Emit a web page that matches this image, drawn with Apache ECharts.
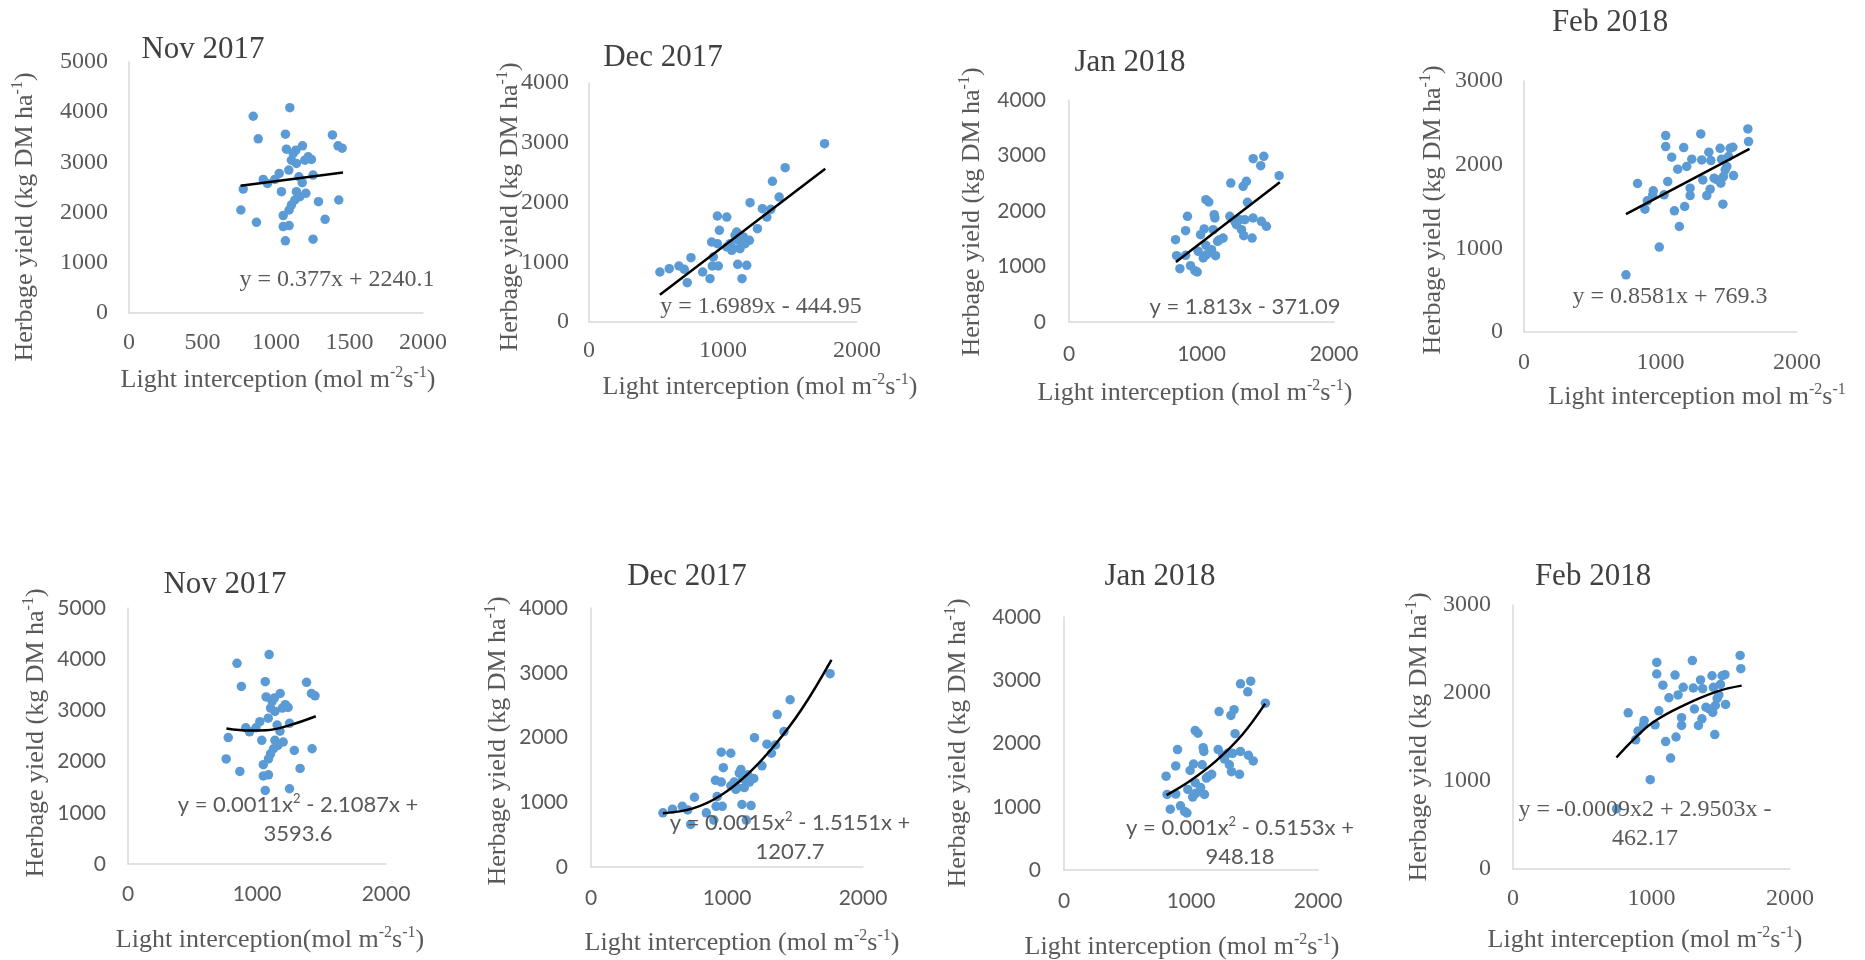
<!DOCTYPE html>
<html>
<head>
<meta charset="utf-8">
<script src="https://cdn.jsdelivr.net/npm/echarts@6/dist/echarts.min.js"></script>
<style>
html, body { margin: 0; padding: 0; background: #fff; }
#chart { width: 1865px; height: 960px; }
</style>
</head>
<body>
<div id="chart"></div>
<script>
// light interception (x) vs herbage yield (y), one pair per month
const novX = [845, 1094, 879, 1064, 1384, 1422, 1450, 1071, 1180, 1135, 1117, 1105, 1139, 1219, 1241, 1196, 1087, 1022, 913, 942, 992, 1156, 1252, 1178, 777, 1037, 1139, 1203, 1162, 1128, 1289, 1427, 1105, 1089, 761, 1049, 1334, 867, 1049, 1089, 1064, 1252];
const novY = [3919, 4091, 3469, 3562, 3548, 3330, 3284, 3264, 3330, 3244, 3178, 3045, 2979, 3111, 3058, 3045, 2847, 2780, 2661, 2582, 2661, 2714, 2747, 2595, 2469, 2416, 2416, 2383, 2317, 2251, 2218, 2251, 2152, 2052, 2052, 1940, 1867, 1807, 1721, 1741, 1437, 1470];

const decX = [529, 599, 671, 711, 733, 761, 848, 903, 920, 965, 928, 915, 958, 1028, 973, 958, 1028, 1053, 1077, 1090, 1102, 1115, 1127, 1140, 1152, 1165, 1197, 1110, 1177, 1142, 1202, 1257, 1294, 1327, 1357, 1369, 1419, 1464, 1758, 1065];
const decY = [837, 893, 937, 882, 658, 1077, 837, 725, 937, 937, 1088, 1339, 1774, 1757, 1534, 1311, 1255, 1311, 1227, 1450, 1506, 1367, 1227, 1367, 1423, 1311, 1367, 965, 948, 725, 1997, 1562, 1897, 1757, 1886, 2354, 2092, 2583, 2985, 1199];

const janX = [804, 812, 837, 880, 880, 894, 917, 950, 968, 975, 993, 1020, 1033, 1013, 1038, 1076, 1106, 1088, 1033, 1055, 1096, 1101, 1121, 1163, 1214, 1221, 1264, 1289, 1302, 1319, 1314, 1339, 1347, 1327, 1382, 1389, 1390, 1470, 1447, 1452, 1490, 1586, 1251, 1138];
const janY = [1483, 1195, 961, 1201, 1646, 1904, 1015, 925, 901, 1273, 1574, 1676, 1381, 1153, 1213, 1303, 1195, 1664, 2204, 2162, 1934, 1874, 1453, 1513, 1904, 2504, 1754, 1844, 1664, 1555, 2444, 2534, 2156, 1844, 1513, 1874, 2943, 2985, 2817, 1814, 1724, 2637, 1814, 1483];

const febX = [747, 991, 1138, 1102, 1177, 886, 903, 832, 947, 943, 1026, 1053, 1126, 1082, 1038, 1038, 1170, 1192, 1229, 1217, 1217, 1295, 1302, 1310, 1339, 1364, 1354, 1369, 1393, 1418, 1437, 1442, 1447, 1457, 1461, 1474, 1486, 1498, 1510, 1530, 1535, 1640, 1645];
const febY = [684, 1015, 1261, 1448, 1500, 1468, 1568, 1775, 1687, 1639, 1639, 1798, 1946, 2089, 2348, 2216, 2204, 1978, 2065, 1719, 1631, 2368, 2057, 1818, 1631, 1707, 2149, 2049, 1838, 1818, 2196, 1779, 2065, 1528, 1858, 1938, 1978, 2097, 2196, 2208, 1870, 2427, 2276];

// trendlines
const novLinX = [759, 1456];
const novLinY = [2535, 2800];
const decLinX = [529, 1763];
const decLinY = [457, 2566];
const janLinX = [807, 1591];
const janLinY = [1081, 2517];
const febLinX = [747, 1652];
const febLinY = [1409, 2188];

const novQuadX = [763, 944, 1074, 1255, 1456];
const novQuadY = [2645, 2605, 2612, 2712, 2885];
const decQuadX = [528, 750, 950, 1150, 1350, 1550, 1768];
const decQuadY = [830, 905, 1100, 1430, 1880, 2440, 3200];
const janQuadX = [808, 1000, 1200, 1400, 1584];
const janQuadY = [1185, 1420, 1730, 2130, 2630];
const febQuadX = [747, 868, 1012, 1229, 1470, 1651];
const febQuadY = [1267, 1468, 1668, 1857, 2016, 2084];

const titles = ['Nov 2017', 'Dec 2017', 'Jan 2018', 'Feb 2018'];
const yTitle = 'Herbage yield (kg DM ha{sup|-1})';
const xTitle = 'Light interception (mol m{sup|-2}s{sup|-1})';

const SERIF = '"Liberation Serif", "Times New Roman", serif';
const SANS = 'Lato, "Open Sans", sans-serif';
const DOT = '#5B9BD5';
const TXT = '#595959';

const zip = (xs, ys) => xs.map((x, i) => [x, ys[i]]);

const panels = [
  { pts: [novX, novY], fit: [novLinX, novLinY], smooth: false, title: titles[0],
    grid: [129, 62, 294, 251], yMax: 5000, xInt: 500, tick: SERIF, eqFont: SERIF,
    titlePos: [203, 50], yPos: [25, 217], xPos: [278, 380], xText: xTitle,
    eq: ['y = 0.377x + 2240.1'], eqPos: [337, 280], xm: 18, ym: 21 },
  { pts: [decX, decY], fit: [decLinX, decLinY], smooth: false, title: titles[1],
    grid: [589, 83, 268, 239], yMax: 4000, xInt: 1000, tick: SERIF, eqFont: SERIF,
    titlePos: [663, 58], yPos: [510, 207], xPos: [760, 387], xText: xTitle,
    eq: ['y = 1.6989x - 444.95'], eqPos: [761, 307], xm: 17, ym: 20 },
  { pts: [janX, janY], fit: [janLinX, janLinY], smooth: false, title: titles[2],
    grid: [1069, 100, 265, 222], yMax: 4000, xInt: 1000, tick: SANS, eqFont: SANS,
    titlePos: [1130, 63], yPos: [972, 212], xPos: [1195, 393], xText: xTitle,
    eq: ['y = 1.813x - 371.09'], eqPos: [1245, 307], xm: 22, ym: 23 },
  { pts: [febX, febY], fit: [febLinX, febLinY], smooth: false, title: titles[3],
    grid: [1524, 81, 273, 251], yMax: 3000, xInt: 1000, tick: SERIF, eqFont: SERIF,
    titlePos: [1610, 23], yPos: [1433, 210], xPos: [1697, 397],
    xText: 'Light interception mol m{sup|-2}s{sup|-1}',
    eq: ['y = 0.8581x + 769.3'], eqPos: [1670, 297], xm: 19, ym: 21 },
  { pts: [novX, novY], fit: [novQuadX, novQuadY], smooth: true, title: titles[0],
    grid: [128, 608, 258, 256], yMax: 5000, xInt: 1000, tick: SANS, eqFont: SANS,
    titlePos: [225, 585], yPos: [36, 733], xPos: [270, 940],
    xText: 'Light interception(mol m{sup|-2}s{sup|-1})',
    eq: ['y = 0.0011x{sup|2} - 2.1087x +', '3593.6'], eqPos: [298, 805], xm: 20, ym: 22 },
  { pts: [decX, decY], fit: [decQuadX, decQuadY], smooth: true, title: titles[1],
    grid: [591, 608, 272, 259], yMax: 4000, xInt: 1000, tick: SANS, eqFont: SANS,
    titlePos: [687, 577], yPos: [498, 741], xPos: [742, 943], xText: xTitle,
    eq: ['y = 0.0015x{sup|2} - 1.5151x +', '1207.7'], eqPos: [790, 823], xm: 21, ym: 23 },
  { pts: [janX, janY], fit: [janQuadX, janQuadY], smooth: true, title: titles[2],
    grid: [1064, 617, 254, 253], yMax: 4000, xInt: 1000, tick: SANS, eqFont: SANS,
    titlePos: [1160, 577], yPos: [958, 743], xPos: [1182, 947], xText: xTitle,
    eq: ['y = 0.001x{sup|2} - 0.5153x +', '948.18'], eqPos: [1240, 828], xm: 21, ym: 23 },
  { pts: [febX, febY], fit: [febQuadX, febQuadY], smooth: true, title: titles[3],
    grid: [1513, 605, 277, 264], yMax: 3000, xInt: 1000, tick: SERIF, eqFont: SERIF,
    titlePos: [1593, 577], yPos: [1419, 737], xPos: [1645, 940], xText: xTitle,
    eq: ['y = -0.0009x2 + 2.9503x -', '462.17'], eqPos: [1645, 810], xm: 18, ym: 22 }
];

const textEl = (text, x, y, font, size, color, rot) => ({
  type: 'text',
  x, y,
  rotation: rot || 0,
  z: 100,
  style: {
    text,
    x: 0, y: 0,
    align: 'center',
    verticalAlign: 'middle',
    fontFamily: font,
    fontSize: size,
    lineHeight: size * 1.15,
    fill: color,
    rich: { sup: { fontFamily: font, fontSize: Math.round(size * 0.6), verticalAlign: 'top', lineHeight: size * 1.15, fill: color } }
  }
});

const grids = [], xAxes = [], yAxes = [], series = [], graphics = [];

panels.forEach((p, i) => {
  const [l, t, w, h] = p.grid;
  const tickSize = p.tick === SANS ? 21 : 24;
  grids.push({ left: l, top: t, width: w, height: h, containLabel: false });
  const axisBase = {
    gridIndex: i,
    type: 'value',
    axisTick: { show: false },
    splitLine: { show: false },
    axisLine: { show: true, lineStyle: { color: '#d9d9d9', width: 1.5 } }
  };
  const label = (m) => ({
    color: TXT, fontFamily: p.tick, fontSize: tickSize, margin: m,
    showMaxLabel: true, formatter: (v) => String(v)
  });
  xAxes.push(Object.assign({}, axisBase, {
    min: 0, max: 2000, interval: p.xInt, axisLabel: label(p.xm)
  }));
  yAxes.push(Object.assign({}, axisBase, {
    min: 0, max: p.yMax, interval: 1000, axisLabel: label(p.ym)
  }));
  series.push({
    type: 'scatter',
    xAxisIndex: i, yAxisIndex: i,
    data: zip(p.pts[0], p.pts[1]),
    symbolSize: 9.5,
    itemStyle: { color: DOT, opacity: 1 },
    silent: true
  });
  series.push({
    type: 'line',
    xAxisIndex: i, yAxisIndex: i,
    data: zip(p.fit[0], p.fit[1]),
    smooth: p.smooth ? 0.4 : false,
    showSymbol: false,
    lineStyle: { color: '#000', width: 2.5 },
    z: 5,
    silent: true
  });

  graphics.push(textEl(p.title, p.titlePos[0], p.titlePos[1], SERIF, 31, '#404040'));
  graphics.push(textEl(yTitle, p.yPos[0], p.yPos[1], SERIF, 26, TXT, Math.PI / 2));
  graphics.push(textEl(p.xText, p.xPos[0], p.xPos[1], SERIF, 26, TXT));
  const eqSize = p.eqFont === SANS ? 22 : 24;
  p.eq.forEach((line, k) => {
    graphics.push(textEl(line, p.eqPos[0], p.eqPos[1] + k * 29, p.eqFont, eqSize, TXT));
  });
});

const chart = echarts.init(document.getElementById('chart'));
chart.setOption({
  animation: false,
  backgroundColor: '#fff',
  grid: grids,
  xAxis: xAxes,
  yAxis: yAxes,
  series,
  graphic: graphics
});
</script>
</body>
</html>
